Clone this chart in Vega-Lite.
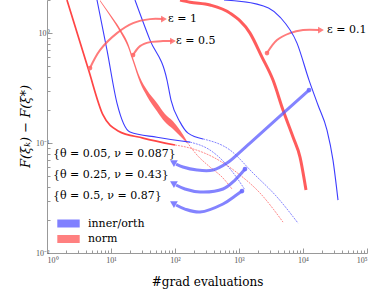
{
  "$schema": "https://vega.github.io/schema/vega-lite/v6.json",
  "width": 320,
  "height": 253,
  "autosize": {"type": "none"},
  "padding": {"left": 47, "top": 0, "right": 7, "bottom": 36},
  "config": {
    "view": {"stroke": null},
    "axis": {"grid": false, "domainColor": "#999", "tickColor": "#999", "labelColor": "#555", "labelFont": "Liberation Serif", "labelFontSize": 8, "titleFont": "DejaVu Serif", "titleFontWeight": "normal", "titleColor": "#000", "titleFontSize": 12}
  },
  "datasets": {
    "lines": [
      {"s": "R1", "m": "norm", "x": 2.05, "y": 2.0},
      {"s": "R1", "m": "norm", "x": 4.37, "y": 0.481},
      {"s": "R1", "m": "norm", "x": 7.5, "y": 0.18},
      {"s": "R1", "m": "norm", "x": 12.9, "y": 0.129},
      {"s": "R1", "m": "norm", "x": 31.6, "y": 0.111},
      {"s": "R1", "m": "norm", "x": 100, "y": 0.096},
      {"s": "B1", "m": "inner/orth", "x": 6.04, "y": 2.0},
      {"s": "B1", "m": "inner/orth", "x": 8.66, "y": 0.7},
      {"s": "B1", "m": "inner/orth", "x": 12.4, "y": 0.231},
      {"s": "B1", "m": "inner/orth", "x": 19.8, "y": 0.126},
      {"s": "B1", "m": "inner/orth", "x": 52.3, "y": 0.113},
      {"s": "B1", "m": "inner/orth", "x": 172, "y": 0.102},
      {"s": "B2", "m": "inner/orth", "x": 23.7, "y": 2.0},
      {"s": "B2", "m": "inner/orth", "x": 40.7, "y": 0.864},
      {"s": "B2", "m": "inner/orth", "x": 75, "y": 0.374},
      {"s": "B2", "m": "inner/orth", "x": 86.6, "y": 0.246},
      {"s": "B2", "m": "inner/orth", "x": 120, "y": 0.155},
      {"s": "B2", "m": "inner/orth", "x": 160, "y": 0.123},
      {"s": "B2", "m": "inner/orth", "x": 274, "y": 0.109}
    ],
    "thick": [
      {"x": 120, "y": 2.0}, {"x": 172, "y": 1.91}, {"x": 352, "y": 1.8}, {"x": 723, "y": 1.52},
      {"x": 1486, "y": 1.0}, {"x": 2287, "y": 0.605}, {"x": 3398, "y": 0.374}, {"x": 4870, "y": 0.1995},
      {"x": 6982, "y": 0.1135}, {"x": 8980, "y": 0.0746}, {"x": 11140, "y": 0.0374}
    ],
    "right": [
      {"x": 583, "y": 2.0}, {"x": 1910, "y": 1.835}, {"x": 4375, "y": 1.4}, {"x": 8057, "y": 0.811},
      {"x": 12410, "y": 0.374}, {"x": 17140, "y": 0.2216}, {"x": 23710, "y": 0.131}, {"x": 29420, "y": 0.07},
      {"x": 35240, "y": 0.0303}
    ],
    "band": [
      {"x": 6.73, "lo": 1.95, "y": 2.0}, {"x": 9.65, "lo": 1.43, "y": 1.49}, {"x": 13.8, "lo": 1.03, "y": 1.1},
      {"x": 18.4, "lo": 0.746, "y": 0.811}, {"x": 22.1, "lo": 0.545, "y": 0.593}, {"x": 28.4, "lo": 0.355, "y": 0.394},
      {"x": 36.5, "lo": 0.267, "y": 0.303}, {"x": 52.3, "lo": 0.195, "y": 0.231}, {"x": 69.8, "lo": 0.155, "y": 0.184},
      {"x": 93, "lo": 0.134, "y": 0.158}, {"x": 120, "lo": 0.116, "y": 0.131}, {"x": 154, "lo": 0.1, "y": 0.104}
    ],
    "tails": [
      {"s": "R1t", "m": "norm", "x": 100, "y": 0.096},
      {"s": "R1t", "m": "norm", "x": 172, "y": 0.09},
      {"s": "R1t", "m": "norm", "x": 392, "y": 0.0746},
      {"s": "R1t", "m": "norm", "x": 1037, "y": 0.0512},
      {"s": "R1t", "m": "norm", "x": 2129, "y": 0.0351},
      {"s": "R1t", "m": "norm", "x": 4870, "y": 0.0191},
      {"s": "R2t", "m": "norm", "x": 154, "y": 0.102},
      {"s": "R2t", "m": "norm", "x": 221, "y": 0.0778},
      {"s": "R2t", "m": "norm", "x": 352, "y": 0.0605},
      {"s": "R2t", "m": "norm", "x": 543, "y": 0.0491},
      {"s": "R2t", "m": "norm", "x": 777, "y": 0.0382},
      {"s": "B1t", "m": "inner/orth", "x": 172, "y": 0.102},
      {"s": "B1t", "m": "inner/orth", "x": 352, "y": 0.0864},
      {"s": "B1t", "m": "inner/orth", "x": 604, "y": 0.0658},
      {"s": "B1t", "m": "inner/orth", "x": 931, "y": 0.0481},
      {"s": "B1t", "m": "inner/orth", "x": 1241, "y": 0.0374},
      {"s": "B2t", "m": "inner/orth", "x": 274, "y": 0.109},
      {"s": "B2t", "m": "inner/orth", "x": 723, "y": 0.0864},
      {"s": "B2t", "m": "inner/orth", "x": 1655, "y": 0.0534},
      {"s": "B2t", "m": "inner/orth", "x": 3926, "y": 0.0323},
      {"s": "B2t", "m": "inner/orth", "x": 8354, "y": 0.0187}
    ],
    "arrows": [
      {"a": "e1", "m": "norm", "i": 0, "x": 4.7, "y": 0.481},
      {"a": "e1", "m": "norm", "i": 1, "x": 6.73, "y": 0.7},
      {"a": "e1", "m": "norm", "i": 2, "x": 12.4, "y": 1.0},
      {"a": "e1", "m": "norm", "i": 3, "x": 22.1, "y": 1.233},
      {"a": "e1", "m": "norm", "i": 4, "x": 40.7, "y": 1.34},
      {"a": "e1", "m": "norm", "i": 5, "x": 64.9, "y": 1.34},
      {"a": "e05", "m": "norm", "i": 0, "x": 22.1, "y": 0.631},
      {"a": "e05", "m": "norm", "i": 1, "x": 28.4, "y": 0.762},
      {"a": "e05", "m": "norm", "i": 2, "x": 40.7, "y": 0.828},
      {"a": "e05", "m": "norm", "i": 3, "x": 64.9, "y": 0.846},
      {"a": "e05", "m": "norm", "i": 4, "x": 89.8, "y": 0.846},
      {"a": "e01", "m": "norm", "i": 0, "x": 2738, "y": 0.658},
      {"a": "e01", "m": "norm", "i": 1, "x": 3926, "y": 0.864},
      {"a": "e01", "m": "norm", "i": 2, "x": 6266, "y": 1.0},
      {"a": "e01", "m": "norm", "i": 3, "x": 10000, "y": 1.065},
      {"a": "e01", "m": "norm", "i": 4, "x": 17780, "y": 1.065},
      {"a": "t1", "m": "inner/orth", "i": 0, "x": 12410, "y": 0.303},
      {"a": "t1", "m": "inner/orth", "i": 1, "x": 1486, "y": 0.1},
      {"a": "t1", "m": "inner/orth", "i": 2, "x": 1037, "y": 0.0828},
      {"a": "t1", "m": "inner/orth", "i": 3, "x": 649, "y": 0.0658},
      {"a": "t1", "m": "inner/orth", "i": 4, "x": 392, "y": 0.0568},
      {"a": "t1", "m": "inner/orth", "i": 5, "x": 221, "y": 0.0568},
      {"a": "t1", "m": "inner/orth", "i": 6, "x": 133, "y": 0.0605},
      {"a": "t1", "m": "inner/orth", "i": 7, "x": 104, "y": 0.0644},
      {"a": "t2", "m": "inner/orth", "i": 0, "x": 1241, "y": 0.058},
      {"a": "t2", "m": "inner/orth", "i": 1, "x": 866, "y": 0.0461},
      {"a": "t2", "m": "inner/orth", "i": 2, "x": 562, "y": 0.0382},
      {"a": "t2", "m": "inner/orth", "i": 3, "x": 246, "y": 0.0359},
      {"a": "t2", "m": "inner/orth", "i": 4, "x": 143, "y": 0.0382},
      {"a": "t2", "m": "inner/orth", "i": 5, "x": 104, "y": 0.0415},
      {"a": "t3", "m": "inner/orth", "i": 0, "x": 1114, "y": 0.0366},
      {"a": "t3", "m": "inner/orth", "i": 1, "x": 866, "y": 0.033},
      {"a": "t3", "m": "inner/orth", "i": 2, "x": 562, "y": 0.0279},
      {"a": "t3", "m": "inner/orth", "i": 3, "x": 246, "y": 0.0236},
      {"a": "t3", "m": "inner/orth", "i": 4, "x": 143, "y": 0.0251},
      {"a": "t3", "m": "inner/orth", "i": 5, "x": 104, "y": 0.0273}
    ],
    "heads": [
      {"m": "norm", "x": 67.3, "y": 1.34},
      {"m": "norm", "x": 93, "y": 0.846},
      {"m": "norm", "x": 19100, "y": 1.065},
      {"m": "inner/orth", "x": 93, "y": 0.0672},
      {"m": "inner/orth", "x": 93, "y": 0.0433},
      {"m": "inner/orth", "x": 93, "y": 0.0285}
    ],
    "dots": [
      {"m": "norm", "x": 4.7, "y": 0.481},
      {"m": "norm", "x": 22.1, "y": 0.631},
      {"m": "norm", "x": 2738, "y": 0.658},
      {"m": "inner/orth", "x": 12410, "y": 0.303},
      {"m": "inner/orth", "x": 1241, "y": 0.058},
      {"m": "inner/orth", "x": 1114, "y": 0.0366}
    ],
    "texts": [
      {"t": "ε = 1", "x": 78, "y": 1.34},
      {"t": "ε = 0.5", "x": 104, "y": 0.846},
      {"t": "ε = 0.1", "x": 23710, "y": 1.065},
      {"t": "{θ = 0.05, ν = 0.087}", "x": 1.24, "y": 0.0794},
      {"t": "{θ = 0.25, ν = 0.43}", "x": 1.24, "y": 0.0512},
      {"t": "{θ = 0.5, ν = 0.87}", "x": 1.24, "y": 0.033}
    ]
  },
  "layer": [
    {
      "encoding": {
        "x": {"field": "x", "type": "quantitative", "scale": {"type": "log", "domain": [1, 100000], "nice": false},
          "axis": {"values": [1, 10, 100, 1000, 10000, 100000], "tickSize": -5, "labelPadding": 8,
            "labelExpr": "datum.value < 5 ? '10⁰' : datum.value < 50 ? '10¹' : datum.value < 500 ? '10²' : datum.value < 5000 ? '10³' : datum.value < 50000 ? '10⁴' : '10⁵'",
            "title": "#grad evaluations", "titlePadding": 12}},
        "y": {"field": "y", "type": "quantitative", "scale": {"type": "log", "domain": [0.01, 2], "nice": false},
          "axis": {"values": [0.01, 0.1, 1], "tickSize": -5, "labelPadding": 3,
            "labelExpr": "datum.value < 0.05 ? '10⁻²' : datum.value < 0.5 ? '10⁻¹' : '10⁰'",
            "title": "F(ξₖ) − F(ξ*)", "titleFontStyle": "italic", "titleFontSize": 13, "titleX": -22, "titleY": 126, "titleBaseline": "middle", "titleAlign": "center", "titleAngle": -90}}
      },
      "layer": [
        {"data": {"name": "band"}, "mark": {"type": "area", "color": "#ff5c5c", "opacity": 0.9, "interpolate": "monotone", "clip": true},
          "encoding": {"y2": {"field": "lo"}}},
        {"data": {"name": "lines"}, "transform": [{"filter": "datum.s != 'R1'"}], "mark": {"type": "line", "strokeWidth": 1.1, "color": "#3c3cff", "interpolate": "monotone", "clip": true},
          "encoding": {"detail": {"field": "s"}}},
        {"data": {"name": "lines"}, "transform": [{"filter": "datum.s == 'R1'"}], "mark": {"type": "line", "strokeWidth": 1.7, "color": "#ff4545", "interpolate": "monotone", "clip": true},
          "encoding": {"detail": {"field": "s"}}},
        {"data": {"name": "thick"}, "mark": {"type": "line", "strokeWidth": 3, "color": "#ff4a4a", "opacity": 0.9, "interpolate": "monotone", "clip": true}, "encoding": {}},
        {"data": {"name": "tails"}, "transform": [{"filter": "datum.m == 'norm'"}], "mark": {"type": "line", "strokeWidth": 0.9, "strokeDash": [2, 1], "color": "#ff4545", "opacity": 0.7, "interpolate": "monotone", "clip": true},
          "encoding": {"detail": {"field": "s"}}},
        {"data": {"name": "tails"}, "transform": [{"filter": "datum.m != 'norm'"}], "mark": {"type": "line", "strokeWidth": 0.9, "strokeDash": [2, 1], "color": "#3c3cff", "opacity": 0.7, "interpolate": "monotone", "clip": true},
          "encoding": {"detail": {"field": "s"}}},
        {"data": {"name": "arrows"}, "transform": [{"filter": "datum.m == 'norm'"}],
          "mark": {"type": "line", "strokeWidth": 2, "color": "#ff5a5a", "interpolate": "catmull-rom", "opacity": 0.8, "clip": true},
          "encoding": {"detail": {"field": "a"}, "order": {"field": "i"}}},
        {"data": {"name": "arrows"}, "transform": [{"filter": "datum.m != 'norm'"}],
          "mark": {"type": "line", "strokeWidth": 3, "color": "#5a5aff", "interpolate": "catmull-rom", "opacity": 0.75, "clip": true},
          "encoding": {"detail": {"field": "a"}, "order": {"field": "i"}}},
        {"data": {"name": "dots"}, "mark": {"type": "point", "shape": "circle", "filled": true, "size": 22, "opacity": 0.9},
          "encoding": {"fill": {"field": "m", "type": "nominal", "scale": {"domain": ["inner/orth", "norm"], "range": ["#6a6aff", "#ff6a6a"]},
            "legend": {"orient": "none", "legendX": 13.5, "legendY": 215.5, "title": null, "symbolType": "M-1.4,-0.5H1.4V0.5H-1.4Z", "symbolSize": 256, "symbolOpacity": 0.85, "symbolStrokeWidth": 0, "labelFont": "DejaVu Serif", "labelFontSize": 11, "labelColor": "#000", "labelOffset": 11.5, "rowPadding": 2.5, "padding": 0}}}},
        {"data": {"name": "heads"}, "transform": [{"filter": "datum.m == 'norm'"}],
          "mark": {"type": "point", "shape": "triangle-right", "filled": true, "size": 45, "opacity": 0.85},
          "encoding": {"fill": {"field": "m", "type": "nominal"}}},
        {"data": {"name": "heads"}, "transform": [{"filter": "datum.m != 'norm'"}],
          "mark": {"type": "point", "shape": "triangle-left", "angle": 30, "filled": true, "size": 60, "opacity": 0.85},
          "encoding": {"fill": {"field": "m", "type": "nominal"}}},
        {"data": {"name": "texts"}, "mark": {"type": "text", "align": "left", "baseline": "middle", "font": "DejaVu Serif", "fontSize": 11, "color": "#000"},
          "encoding": {"text": {"field": "t"}}}
      ]
    },
    {
      "data": {"name": "right"},
      "mark": {"type": "line", "strokeWidth": 1.1, "color": "#3c3cff", "interpolate": "monotone", "clip": true},
      "encoding": {
        "x": {"field": "x", "type": "quantitative", "scale": {"type": "log", "domain": [1, 100000], "nice": false},
          "axis": {"orient": "bottom", "labels": false, "domain": false, "title": null, "tickSize": -3,
            "values": [2, 3, 4, 5, 6, 7, 8, 9, 20, 30, 40, 50, 60, 70, 80, 90, 200, 300, 400, 500, 600, 700, 800, 900, 2000, 3000, 4000, 5000, 6000, 7000, 8000, 9000, 20000, 30000, 40000, 50000, 60000, 70000, 80000, 90000]}},
        "y": {"field": "y", "type": "quantitative", "scale": {"type": "log", "domain": [0.01, 2], "nice": false},
          "axis": {"orient": "left", "labels": false, "domain": false, "title": null, "tickSize": -3,
            "values": [0.02, 0.03, 0.04, 0.05, 0.06, 0.07, 0.08, 0.09, 0.2, 0.3, 0.4, 0.5, 0.6, 0.7, 0.8, 0.9, 2]}}
      }
    }
  ],
  "resolve": {"axis": {"x": "independent", "y": "independent"}}
}
